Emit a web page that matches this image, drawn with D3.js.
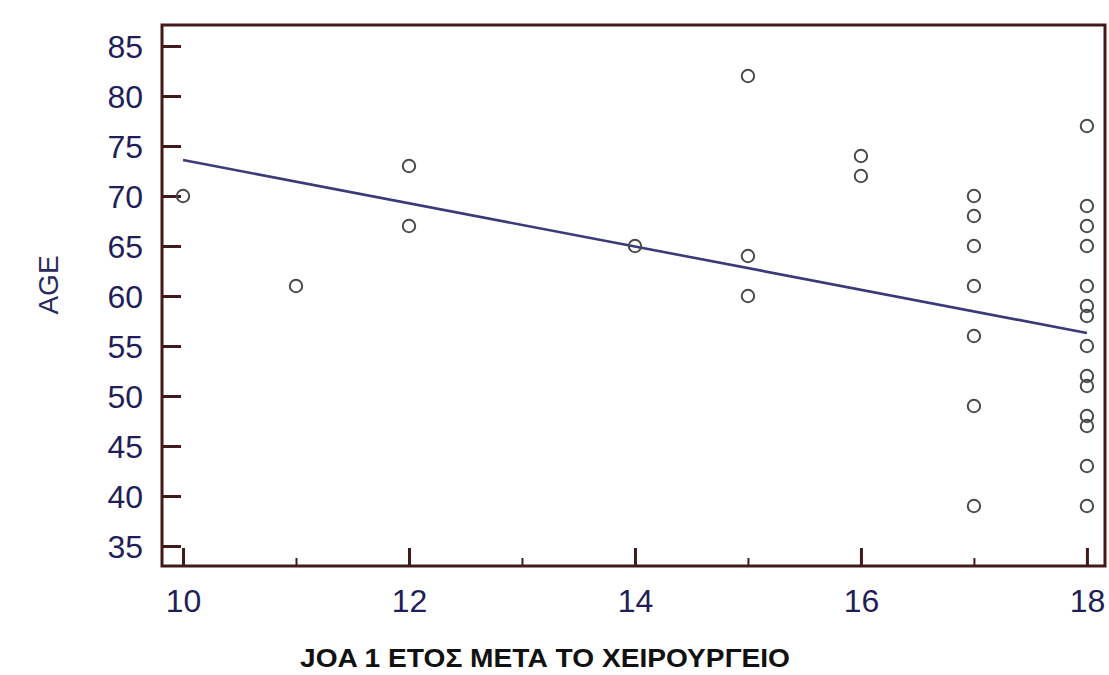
<!DOCTYPE html>
<html>
<head>
<meta charset="utf-8">
<script src="https://cdn.jsdelivr.net/npm/d3@7"></script>
<style>
  html, body { margin: 0; padding: 0; background: #ffffff; }
  svg { display: block; }
</style>
</head>
<body>
<svg id="chart" width="1109" height="675"></svg>
<script>
// Years of follow-up score (x) against patient age (y)
const scoreValues = [10, 11, 12, 12, 14, 15, 15, 15, 16, 16,
  17, 17, 17, 17, 17, 17, 17,
  18, 18, 18, 18, 18, 18, 18, 18, 18, 18, 18, 18, 18, 18];
const ageValues = [70, 61, 73, 67, 65, 82, 64, 60, 74, 72,
  70, 68, 65, 61, 56, 49, 39,
  77, 69, 67, 65, 61, 59, 58, 55, 52, 51, 48, 47, 43, 39];

// Fitted regression line, end points
const fitX = [10, 18];
const fitY = [73.6, 56.3];

// Axis ticks
const xTicks = [10, 12, 14, 16, 18];
const xMinorTicks = [11, 13, 15, 17];
const yTicks = [35, 40, 45, 50, 55, 60, 65, 70, 75, 80, 85];

const xTitle = "JOA 1 ΕΤΟΣ ΜΕΤΑ ΤΟ ΧΕΙΡΟΥΡΓΕΙΟ";
const yTitle = "AGE";

const svg = d3.select("#chart");
const frame = { left: 162, right: 1105, top: 25, bottom: 566 };

const x = d3.scaleLinear().domain([9.814, 18.16]).range([frame.left, frame.right]);
const y = d3.scaleLinear().domain([33, 87.1]).range([frame.bottom, frame.top]);

const frameColor = "#421a1c";
const labelColor = "#1f1e58";
const fontFamily = "Liberation Sans, Arial, sans-serif";

// Plot frame
svg.append("rect")
  .attr("x", frame.left).attr("y", frame.top)
  .attr("width", frame.right - frame.left)
  .attr("height", frame.bottom - frame.top)
  .attr("fill", "none")
  .attr("stroke", frameColor)
  .attr("stroke-width", 3);

// Y axis: ticks point inward, labels on the left
const yAxis = d3.axisLeft(y).tickValues(yTicks).tickSize(-19).tickPadding(19).tickSizeOuter(0);
const gy = svg.append("g").attr("transform", `translate(${frame.left},0)`).call(yAxis);
gy.select(".domain").remove();
gy.selectAll(".tick line").attr("stroke", frameColor).attr("stroke-width", 3);
gy.selectAll(".tick text")
  .attr("fill", labelColor)
  .attr("font-family", fontFamily)
  .attr("font-size", 32)
  .attr("dy", "0.36em");

// X axis: major and minor ticks point inward
const xAxis = d3.axisBottom(x).tickValues(xTicks).tickSize(-18).tickPadding(46).tickSizeOuter(0);
const gx = svg.append("g").attr("transform", `translate(0,${frame.bottom})`).call(xAxis);
gx.select(".domain").remove();
gx.selectAll(".tick line").attr("stroke", frameColor).attr("stroke-width", 3);
gx.selectAll(".tick text")
  .attr("fill", labelColor)
  .attr("font-family", fontFamily)
  .attr("font-size", 32)
  .attr("dy", "0");

const xMinor = d3.axisBottom(x).tickValues(xMinorTicks).tickSize(-8).tickFormat("").tickSizeOuter(0);
const gxm = svg.append("g").attr("transform", `translate(0,${frame.bottom})`).call(xMinor);
gxm.select(".domain").remove();
gxm.selectAll(".tick line").attr("stroke", frameColor).attr("stroke-width", 2);

// Regression line
const line = d3.line().x(d => x(d[0])).y(d => y(d[1]));
svg.append("path")
  .datum(d3.zip(fitX, fitY))
  .attr("d", line)
  .attr("fill", "none")
  .attr("stroke", "#3a3a78")
  .attr("stroke-width", 2.6);

// Observations
svg.append("g")
  .selectAll("circle")
  .data(d3.zip(scoreValues, ageValues))
  .join("circle")
  .attr("cx", d => x(d[0]))
  .attr("cy", d => y(d[1]))
  .attr("r", 6.2)
  .attr("fill", "none")
  .attr("stroke", "#4a4a4a")
  .attr("stroke-width", 2);

// Axis titles
svg.append("text")
  .attr("transform", `translate(58,285) rotate(-90)`)
  .attr("text-anchor", "middle")
  .attr("fill", "#2a2a5e")
  .attr("font-family", fontFamily)
  .attr("font-size", 28)
  .text(yTitle);

svg.append("text")
  .attr("x", 545)
  .attr("y", 667)
  .attr("text-anchor", "middle")
  .attr("fill", "#111111")
  .attr("font-family", fontFamily)
  .attr("font-weight", "bold")
  .attr("font-size", 25)
  .attr("textLength", 490)
  .attr("lengthAdjust", "spacingAndGlyphs")
  .text(xTitle);
</script>
</body>
</html>
